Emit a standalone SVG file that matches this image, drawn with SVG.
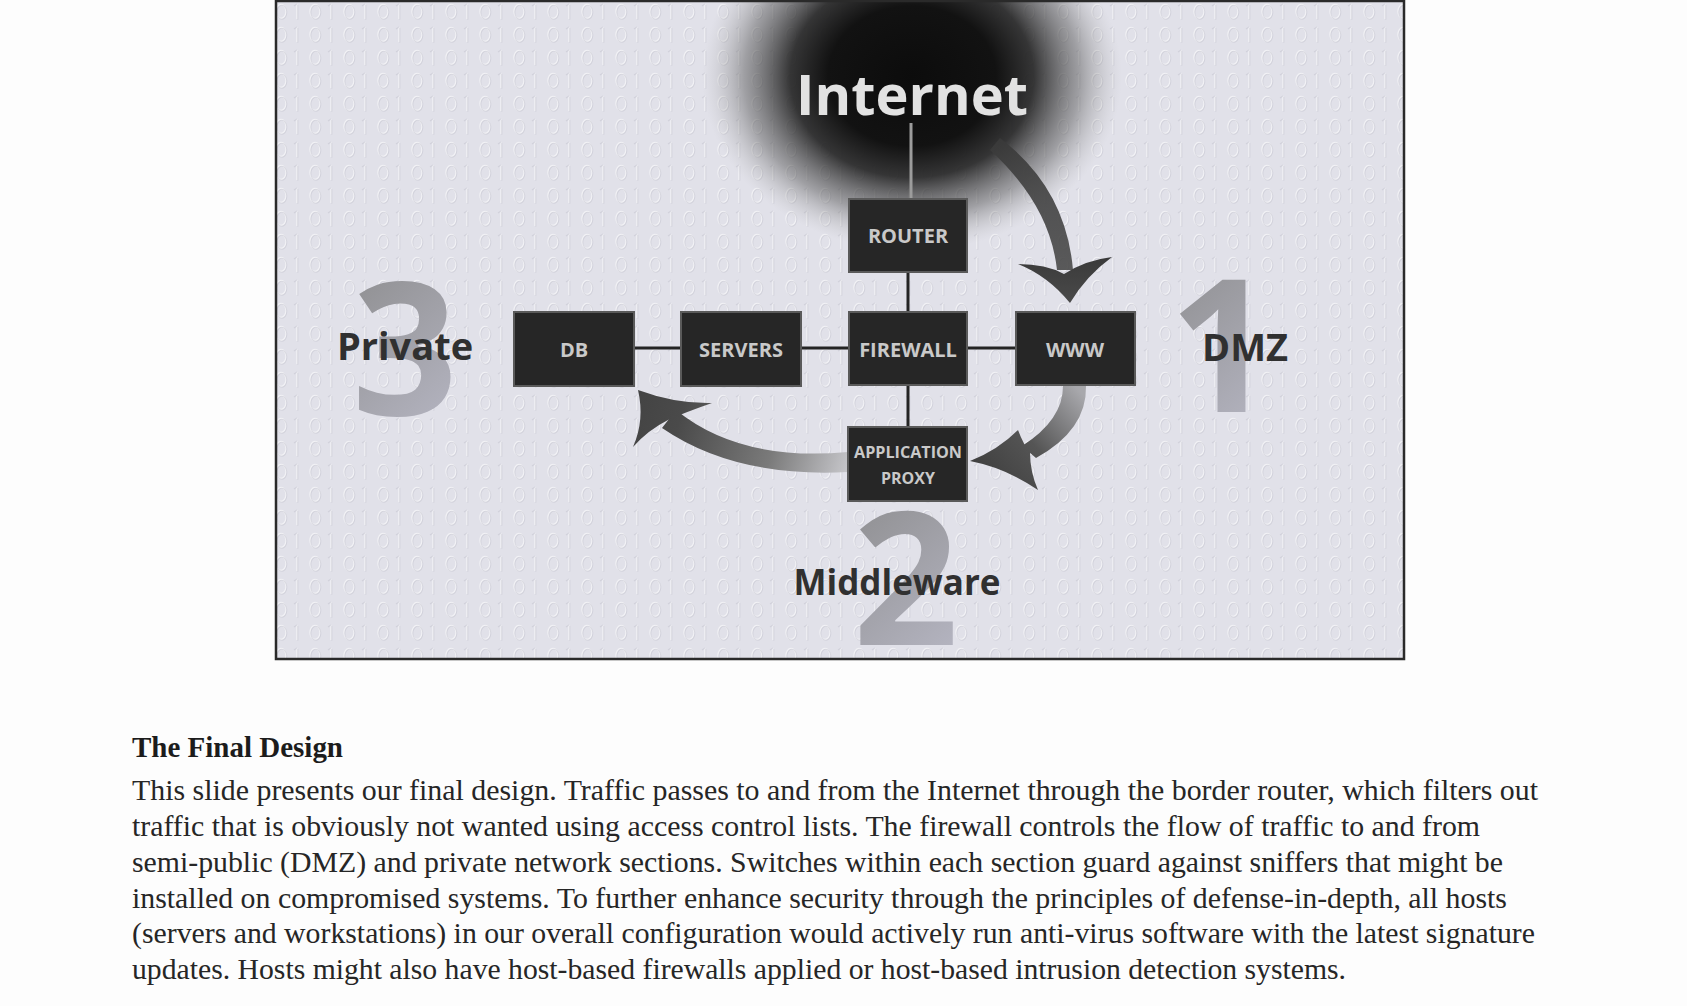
<svg xmlns="http://www.w3.org/2000/svg" width="1687" height="1006" viewBox="0 0 1687 1006">
<style>
.box{fill:#262626;stroke:#5a5a5a;stroke-width:2}
.bt{font-family:"Open Sans","DejaVu Sans",sans-serif;font-weight:bold;font-size:20px;fill:#c9c9c9;text-anchor:middle}
.bt2{font-family:"Open Sans","DejaVu Sans",sans-serif;font-weight:bold;font-size:16px;fill:#c9c9c9;text-anchor:middle}
.lab{font-family:"Open Sans","DejaVu Sans",sans-serif;font-weight:bold;fill:#303030;text-anchor:middle}
.num{font-family:"Open Sans","DejaVu Sans",sans-serif;font-weight:bold;font-size:185px;fill:url(#numg);text-anchor:middle}
.link{stroke:#242424;stroke-width:3;fill:none}
.para{font-family:"Liberation Serif","Times New Roman",serif;font-size:29px;fill:#262626}
</style>
<defs>
<pattern id="bin" width="34" height="23" patternUnits="userSpaceOnUse">
<ellipse cx="9" cy="11.5" rx="5" ry="7" fill="none" stroke="#ffffff" stroke-width="1.4" opacity="0.55"/>
<ellipse cx="9.8" cy="12.3" rx="5" ry="7" fill="none" stroke="#b9b9c5" stroke-width="1.1" opacity="0.4"/>
<line x1="25" y1="4" x2="25" y2="19" stroke="#ffffff" stroke-width="1.5" opacity="0.55"/>
<line x1="25.8" y1="4.8" x2="25.8" y2="19.8" stroke="#b9b9c5" stroke-width="1.1" opacity="0.4"/>
<line x1="22" y1="6" x2="25" y2="4" stroke="#b9b9c5" stroke-width="1.1" opacity="0.4"/>
</pattern>
<radialGradient id="blob" cx="0.5" cy="0.5" r="0.5">
<stop offset="0" stop-color="#0c0c0c" stop-opacity="1"/>
<stop offset="0.4" stop-color="#121212" stop-opacity="1"/>
<stop offset="0.58" stop-color="#262626" stop-opacity="0.92"/>
<stop offset="0.8" stop-color="#5e5e5e" stop-opacity="0.5"/>
<stop offset="1" stop-color="#b0b0b0" stop-opacity="0"/>
</radialGradient>
<linearGradient id="numg" x1="0" y1="0" x2="0.4" y2="1">
<stop offset="0" stop-color="#878787"/>
<stop offset="1" stop-color="#b3b3bf"/>
</linearGradient>
<linearGradient id="a1" x1="0" y1="0" x2="0" y2="1">
<stop offset="0" stop-color="#3a3a3a"/>
<stop offset="1" stop-color="#4a4a4a"/>
</linearGradient>
<linearGradient id="a2" gradientUnits="userSpaceOnUse" x1="1075" y1="386" x2="980" y2="470">
<stop offset="0" stop-color="#a8a8ac"/>
<stop offset="0.55" stop-color="#555555"/>
<stop offset="1" stop-color="#404040"/>
</linearGradient>
<linearGradient id="a3" gradientUnits="userSpaceOnUse" x1="848" y1="462" x2="640" y2="400">
<stop offset="0" stop-color="#c4c4c8"/>
<stop offset="0.35" stop-color="#7a7a7a"/>
<stop offset="0.8" stop-color="#4a4a4a"/>
<stop offset="1" stop-color="#444444"/>
</linearGradient>
</defs>

<rect x="0" y="0" width="1687" height="1006" fill="#fdfdfd"/>

<g id="frame">
<rect x="276" y="1" width="1128" height="658" fill="#e1e1e9"/>
<rect x="276" y="1" width="1128" height="658" fill="url(#bin)"/>
<ellipse cx="912" cy="76" rx="210" ry="175" fill="url(#blob)"/>
<rect x="276" y="1" width="1128" height="658" fill="none" stroke="#2a2a2a" stroke-width="2.5"/>
</g>

<g id="zone-labels">
<g id="private"><text class="num" x="405" y="415">3</text><text class="lab" x="405" y="360" font-size="38">Private</text></g>
<g id="dmz"><text class="num" x="1222" y="412">1</text><text class="lab" x="1245" y="361" font-size="38">DMZ</text></g>
<g id="middleware"><text class="num" x="906" y="645">2</text><text class="lab" x="897" y="595" font-size="35">Middleware</text></g>
</g>

<g id="connectors">
<line x1="911" y1="123" x2="911" y2="199" stroke="#9c9c9c" stroke-width="3"/>
<line class="link" x1="634" y1="348" x2="1016" y2="348"/>
<line class="link" x1="908" y1="272" x2="908" y2="312"/>
<line class="link" x1="908" y1="385" x2="908" y2="427"/>
<g id="arrow-internet-www" fill="url(#a1)">
<path d="M1000,138 Q1066,188 1073,270 L1057,270 Q1050,205 990,150 Z" opacity="0.9"/>
<path d="M1018,264 Q1046,264 1064,274 Q1086,260 1112,257 Q1086,276 1070,303 Q1048,276 1018,264 Z"/>
</g>
<g id="arrow-www-proxy" fill="url(#a2)">
<path d="M1086,386 Q1087,430 1036,458 L1022,446 Q1063,420 1063,386 Z"/>
<path d="M1018,430 Q1024,446 1030,452 Q1030,472 1038,490 Q1006,468 970,461 Q998,450 1018,430 Z"/>
</g>
<g id="arrow-proxy-db" fill="url(#a3)">
<path d="M848,452 Q740,462 676,410 L662,428 Q735,478 848,472 Z"/>
<path d="M712,403 Q686,412 668,420 Q648,430 633,447 Q645,420 638,390 Q676,404 712,403 Z"/>
</g>
</g>

<g id="internet"><text class="lab" x="912" y="115" font-size="55" style="fill:#e2e2e2" textLength="232" lengthAdjust="spacingAndGlyphs">Internet</text></g>

<g id="router"><rect class="box" x="849" y="199" width="118" height="73"/><text class="bt" x="908" y="243">ROUTER</text></g>
<g id="db"><rect class="box" x="514" y="312" width="120" height="74"/><text class="bt" x="574" y="357">DB</text></g>
<g id="servers"><rect class="box" x="681" y="312" width="120" height="74"/><text class="bt" x="741" y="357">SERVERS</text></g>
<g id="firewall"><rect class="box" x="849" y="312" width="118" height="73"/><text class="bt" x="908" y="357">FIREWALL</text></g>
<g id="www"><rect class="box" x="1016" y="312" width="119" height="73"/><text class="bt" x="1075" y="357">WWW</text></g>
<g id="proxy"><rect class="box" x="848" y="427" width="119" height="74"/><text class="bt2" x="908" y="458" textLength="108" lengthAdjust="spacingAndGlyphs">APPLICATION</text><text class="bt2" x="908" y="484">PROXY</text></g>

<g id="caption">
<text x="132" y="757" font-family="'Liberation Serif','Times New Roman',serif" font-weight="bold" font-size="29" fill="#1c1c1c" textLength="211" lengthAdjust="spacingAndGlyphs">The Final Design</text>
<text class="para" x="132" y="800" textLength="1406" lengthAdjust="spacingAndGlyphs">This slide presents our final design. Traffic passes to and from the Internet through the border router, which filters out</text>
<text class="para" x="132" y="836" textLength="1348" lengthAdjust="spacingAndGlyphs">traffic that is obviously not wanted using access control lists. The firewall controls the flow of traffic to and from</text>
<text class="para" x="132" y="872" textLength="1371" lengthAdjust="spacingAndGlyphs">semi-public (DMZ) and private network sections. Switches within each section guard against sniffers that might be</text>
<text class="para" x="132" y="908" textLength="1375" lengthAdjust="spacingAndGlyphs">installed on compromised systems. To further enhance security through the principles of defense-in-depth, all hosts</text>
<text class="para" x="132" y="943" textLength="1403" lengthAdjust="spacingAndGlyphs">(servers and workstations) in our overall configuration would actively run anti-virus software with the latest signature</text>
<text class="para" x="132" y="979" textLength="1214" lengthAdjust="spacingAndGlyphs">updates. Hosts might also have host-based firewalls applied or host-based intrusion detection systems.</text>
</g>
</svg>
